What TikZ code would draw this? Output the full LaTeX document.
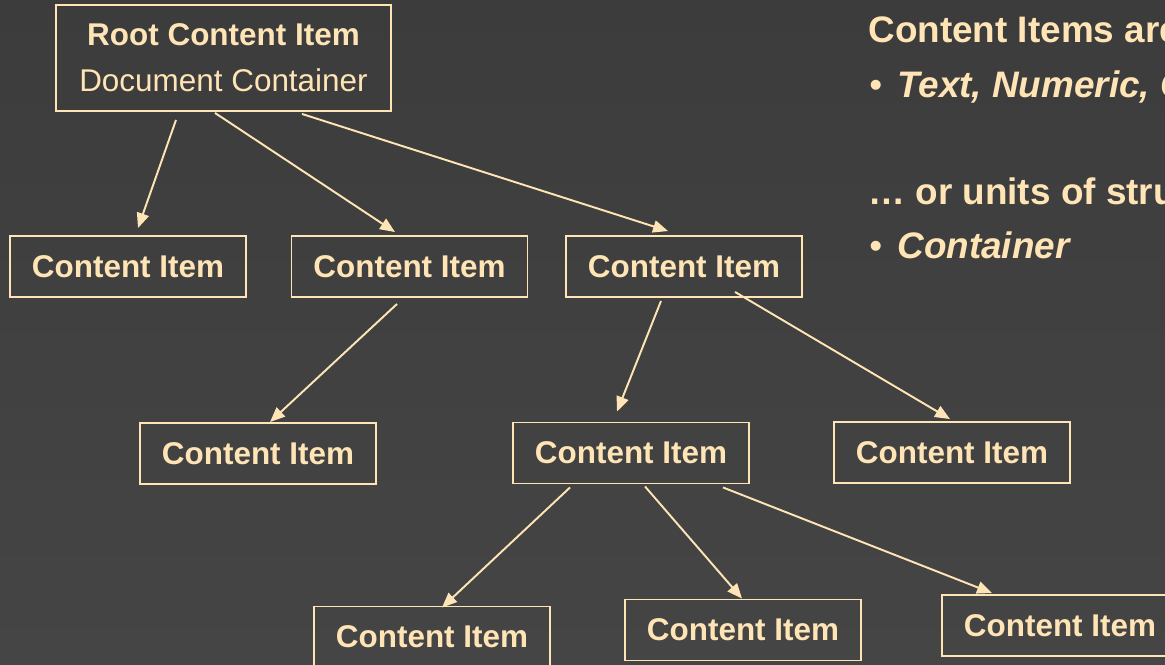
\documentclass[tikz,border=0pt]{standalone}
\usepackage{fontspec}
\setmainfont{Liberation Sans}
\usepackage{xcolor}
\usepackage{tikz}
\usetikzlibrary{arrows.meta, positioning, calc}
\definecolor{cream}{RGB}{255, 228, 181}
\definecolor{bgtop}{RGB}{60, 60, 60}
\definecolor{bgbot}{RGB}{69, 69, 69}

\begin{document}
\begin{tikzpicture}[
    x=0.02cm, y=-0.02cm,
    item/.style={rectangle, draw=cream, text=cream, line width=1.1pt,
                 minimum width=4.72cm, minimum height=1.22cm,
                 inner sep=0pt, font=\fontsize{17.9pt}{22pt}\selectfont\bfseries},
    rootitem/.style={item, minimum width=6.7cm, minimum height=2.12cm,
                     align=center, font=\fontsize{17.9pt}{26pt}\selectfont},
    arr/.style={-{Triangle[length=8.5pt, width=7pt]}, cream, line width=1.1pt},
    lbl/.style={text=cream, anchor=base west, inner sep=0pt,
                font=\fontsize{21pt}{25pt}\selectfont\bfseries}
  ]

  % Background
  \useasboundingbox (0,0) rectangle (1165,665);
  \clip (0,0) rectangle (1165,665);
  \shade[top color=bgtop, bottom color=bgbot] (0,0) rectangle (1165,665);

  % Root
  \node[rootitem] (root) at (223.5,58) {\textbf{Root Content Item}\\Document Container};

  % First level
  \node[item] (a) at (128,266.5)  {Content Item};
  \node[item] (b) at (409.5,266.5) {Content Item};
  \node[item] (c) at (684,266.5)  {Content Item};

  % Second level
  \node[item] (d) at (258,453.5) {Content Item};
  \node[item] (e) at (631,453)   {Content Item};
  \node[item] (f) at (952,452.5) {Content Item};

  % Third level
  \node[item] (g) at (432,637)    {Content Item};
  \node[item] (h) at (743,630)    {Content Item};
  \node[item] (i) at (1060,625.5) {Content Item};

  % Edges: root -> first level
  \draw[arr] ($(root.south)+(-47.5,8)$) -- ($(a.north)+(10,-7)$);
  \draw[arr] ($(root.south)+(-8.5,1)$)  -- ($(b.north)+(-14.5,-3)$);
  \draw[arr] ($(root.south)+(78.5,2)$)  -- ($(c.north)+(-16,-4)$);

  % Edges: first level -> second level
  \draw[arr] ($(b.south)+(-12.5,6)$) -- ($(d.north)+(12,0)$);
  \draw[arr] ($(c.south)+(-23,3)$)   -- ($(e.north)+(-14,-10)$);
  \draw[arr] ($(c.south)+(51,-6)$)   -- ($(f.north)+(-2,-2)$);

  % Edges: second level -> third level
  \draw[arr] ($(e.south)+(-61,3)$) -- ($(g.north)+(10,2)$);
  \draw[arr] ($(e.south)+(14,2)$)  -- ($(h.north)+(-1,0)$);
  \draw[arr] ($(e.south)+(92,3)$)  -- ($(i.north)+(-68,-1)$);

  % Side text
  \node[lbl] (t1) at (868,43) {Content Items are};
  \node[lbl, font=\fontsize{21pt}{25pt}\selectfont] (b1) at (869,98) {•};
  \node[lbl] (t2) at (897,98) {\itshape Text, Numeric, C};
  \node[lbl] (t3) at (868,205) {… or units of stru};
  \node[lbl, font=\fontsize{21pt}{25pt}\selectfont] (b2) at (869,258) {•};
  \node[lbl] (t4) at (897,258) {\itshape Container};

\end{tikzpicture}
\end{document}
